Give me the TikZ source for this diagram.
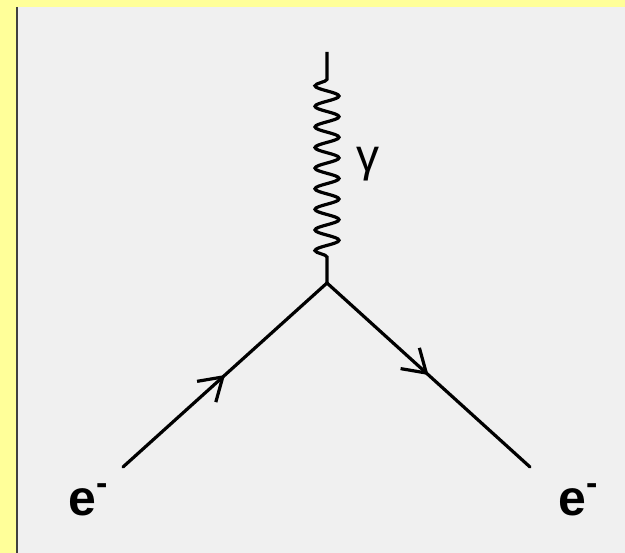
\documentclass[tikz,border=0pt]{standalone}
\usepackage{fontspec}
\setmainfont{Liberation Sans}
\usetikzlibrary{arrows.meta,decorations.pathmorphing,decorations.markings}

\definecolor{pageyellow}{HTML}{FFFF99}
\definecolor{panelgray}{HTML}{F0F0F0}

\newcommand{\elec}{\textbf{e}\raisebox{0.42em}{\fontsize{34}{34}\selectfont\textbf{-}}}

\tikzset{
    fermion/.style={line width=3.2pt, line cap=round,
        postaction={decorate},
        decoration={markings,
            mark=at position 0.5 with {\arrow{Straight Barb[length=22pt,width=28pt,line width=3.2pt]}}}},
    photon/.style={line width=3.2pt,
        decorate,
        decoration={snake, amplitude=12pt, segment length=20.6pt,
            pre length=26pt, post length=20pt}},
    particle/.style={inner sep=0pt, font=\fontsize{50}{60}\selectfont},
}

\begin{document}
\begin{tikzpicture}[
        x=1pt, y=-1pt,
        ]
        % Frame
        \useasboundingbox (0,0) rectangle (625,553);
        \fill[pageyellow] (0,0) rectangle (625,553);
        \fill[panelgray] (17,7) rectangle (625,553);
        \draw[black!75, line width=2pt] (17,7) -- (17,553);

        % Vertex and end points
        \coordinate (v) at (327,283);
        \coordinate (top) at (327,52);
        \coordinate (in) at (123,467);
        \coordinate (out) at (530,467);

        % Lines
        \draw[fermion] (in) -- (v);
        \draw[fermion] (v) -- (out);
        \draw[photon] (v) -- (top);

        % Labels
        \node[particle, anchor=base west] (ein) at (68,516) {\elec};
        \node[particle, anchor=base west] (eout) at (558,516) {\elec};
        \node[particle, anchor=base west, font=\fontsize{46}{50}\selectfont] (gam) at (356,172) {γ};

\end{tikzpicture}
\end{document}
